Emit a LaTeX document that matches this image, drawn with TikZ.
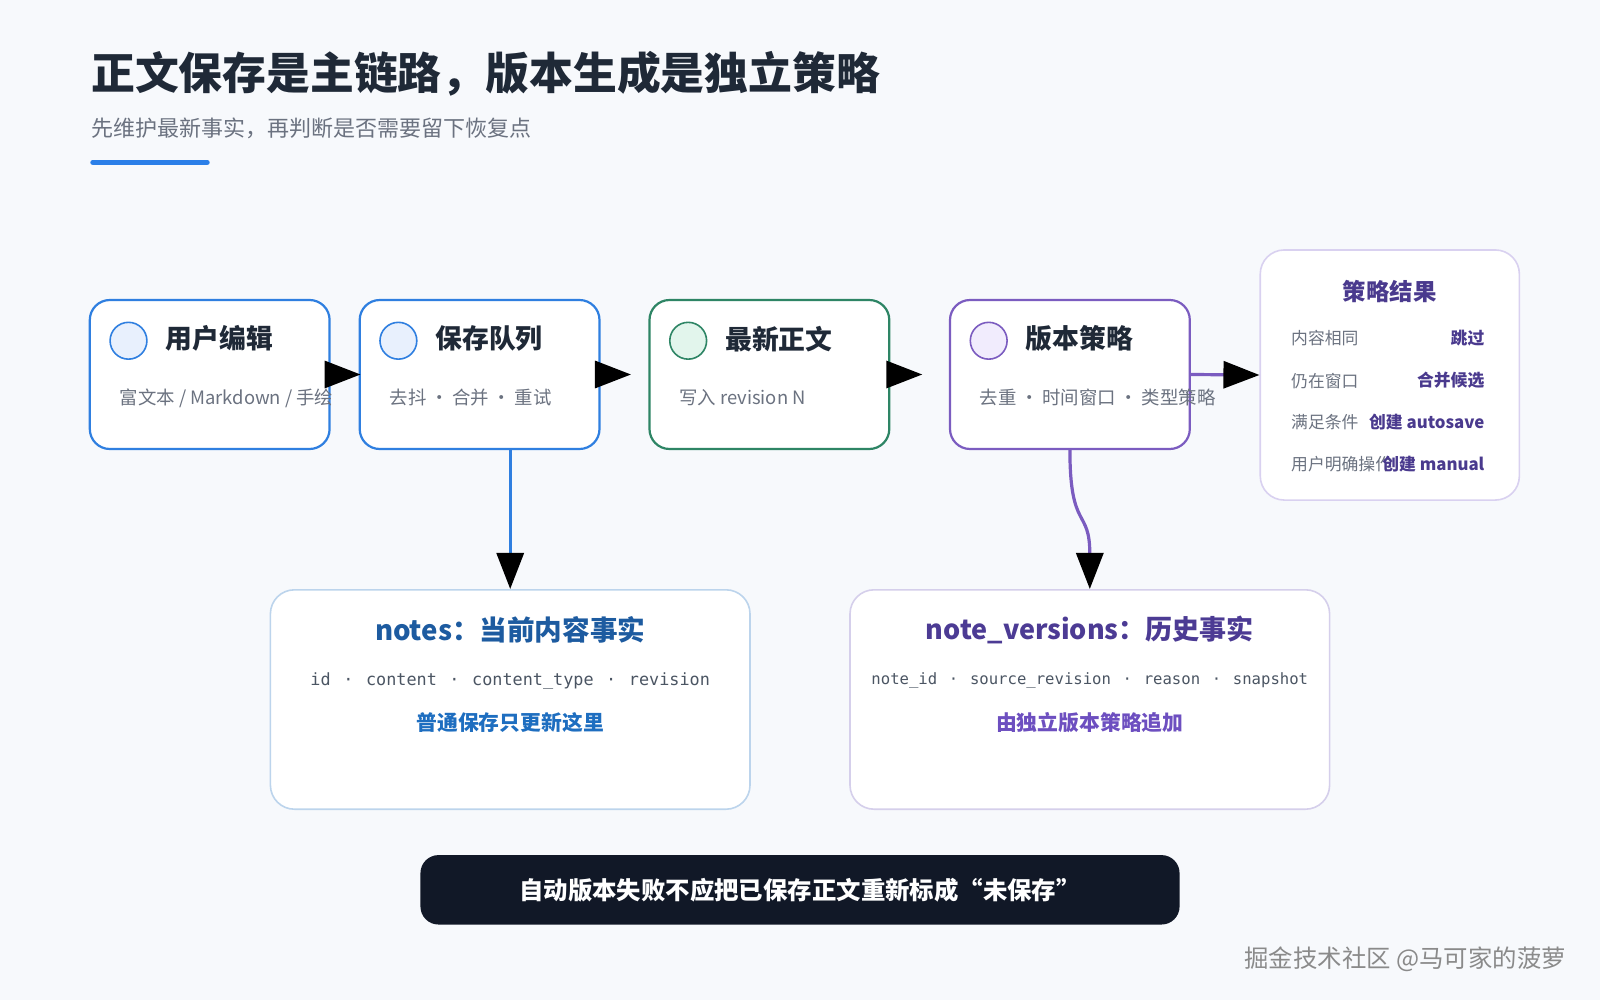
\documentclass[tikz,border=0pt]{standalone}
\usepackage{fontspec}
\setmainfont{Noto Sans CJK SC}
\newfontfamily\monof{DejaVu Sans Mono}
\usetikzlibrary{arrows.meta,calc}
\definecolor{bg}{HTML}{F7F9FC}
\definecolor{ink}{HTML}{1F2937}
\definecolor{subc}{HTML}{6B7280}
\definecolor{monoc}{HTML}{4B5563}
\definecolor{accent}{HTML}{2B7FE8}
\definecolor{blueB}{HTML}{2F7FE0}
\definecolor{blueL}{HTML}{E8F0FD}
\definecolor{greenB}{HTML}{2E8565}
\definecolor{greenL}{HTML}{E2F5EC}
\definecolor{purpB}{HTML}{7B5CC0}
\definecolor{purpL}{HTML}{F1ECFD}
\definecolor{notesB}{HTML}{BCD4EC}
\definecolor{notesT}{HTML}{1D5BA0}
\definecolor{notesS}{HTML}{1E6EC0}
\definecolor{verB}{HTML}{D5CFEB}
\definecolor{verT}{HTML}{4C3B94}
\definecolor{verS}{HTML}{6D4FC0}
\definecolor{stratB}{HTML}{D9D1F0}
\definecolor{stratT}{HTML}{4A3A8E}
\definecolor{darkbar}{HTML}{111827}
\definecolor{wm}{HTML}{8A8A8A}
\newcommand\myfs[1]{\fontsize{#1}{#1}\selectfont}
\newcommand\csep{\hspace{0.2em}·\hspace{0.2em}}
\newcommand\dsep{\hspace{0.75em}·\hspace{0.75em}}
\tikzset{
  x=0.51pt, y=-0.51pt,
  stagebox/.style={draw, line width=1.1pt, rounded corners=10pt, fill=white,
    minimum width=119.85pt, minimum height=74.46pt, inner sep=0pt},
  dotnode/.style={circle, line width=0.8pt, minimum size=18.4pt, inner sep=0pt},
  stitle/.style={anchor=west, inner sep=0pt, text=ink, font=\myfs{13.4}\bfseries},
  ssub/.style={anchor=west, inner sep=0pt, text=subc, font=\myfs{9.2}},
  arr/.style={line width=1.6pt, -{Triangle[length=18pt,width=13.5pt,color=black]}},
  factbox/.style={draw, line width=0.8pt, rounded corners=12pt, fill=white,
    minimum width=239.7pt, minimum height=109.65pt, inner sep=0pt},
  rowlab/.style={anchor=west, inner sep=0pt, text=subc, font=\myfs{8.4}},
  rowval/.style={anchor=east, inner sep=0pt, text=stratT, font=\myfs{8.4}\bfseries},
}
\begin{document}
\begin{tikzpicture}
\useasboundingbox (0,0) rectangle (1568,980);
\fill[bg] (0,0) rectangle (1568,980);

% header
\node[anchor=west, inner sep=0pt, text=ink, font=\myfs{21.9}\bfseries] (title) at (89,72) {正文保存是主链路，版本生成是独立策略};
\node[anchor=west, inner sep=0pt, text=subc, font=\myfs{11.0}] (subtitle) at (89,126) {先维护最新事实，再判断是否需要留下恢复点};
\coordinate (barL) at (91,159);
\coordinate (barR) at (203,159);
\draw[accent, line width=2.6pt, line cap=round] (barL) -- (barR);

% stage boxes
\node[stagebox, draw=blueB] (b1) at (205.5,367) {};
\node[stagebox, draw=blueB] (b2) at (470,367) {};
\node[stagebox, draw=greenB] (b3) at (754,367) {};
\node[stagebox, draw=purpB] (b4) at (1048.5,367) {};

\node[dotnode, draw=blueB, fill=blueL] (c1) at ($(b1.north west)+(39,41)$) {};
\node[dotnode, draw=blueB, fill=blueL] (c2) at ($(b2.north west)+(39,41)$) {};
\node[dotnode, draw=greenB, fill=greenL] (c3) at ($(b3.north west)+(39,41)$) {};
\node[dotnode, draw=purpB, fill=purpL] (c4) at ($(b4.north west)+(39,41)$) {};

\node[stitle] (t1) at ($(b1.north west)+(75,39)$) {用户编辑};
\node[stitle] (t2) at ($(b2.north west)+(75,39)$) {保存队列};
\node[stitle] (t3) at ($(b3.north west)+(75,39)$) {最新正文};
\node[stitle] (t4) at ($(b4.north west)+(75,39)$) {版本策略};

\node[ssub] (s1) at ($(b1.north west)+(30,97)$) {富文本 / Markdown / 手绘};
\node[ssub] (s2) at ($(b2.north west)+(30,97)$) {去抖\csep 合并\csep 重试};
\node[ssub] (s3) at ($(b3.north west)+(30,97)$) {写入 revision N};
\node[ssub] (s4) at ($(b4.north west)+(30,97)$) {去重\csep 时间窗口\csep 类型策略};

% strategy result box
\node[draw=stratB, line width=0.8pt, rounded corners=12pt, fill=white,
  minimum width=129.5pt, minimum height=125pt, inner sep=0pt] (b5) at (1362,367.5) {};
\node[inner sep=0pt, text=stratT, font=\myfs{11.7}\bfseries] (st) at (1362,286) {策略结果};
\node[rowlab] (l1) at (1265,331) {内容相同};
\node[rowlab] (l2) at (1265,373) {仍在窗口};
\node[rowlab] (l3) at (1265,414) {满足条件};
\node[rowlab] (l4) at (1265,455) {用户明确操作};
\node[rowval] (v1) at (1455,331) {跳过};
\node[rowval] (v2) at (1455,373) {合并候选};
\node[rowval] (v3) at (1455,414) {创建 autosave};
\node[rowval] (v4) at (1455,455) {创建 manual};

% fact boxes
\node[factbox, draw=notesB] (notes) at (500,685.5) {};
\node[inner sep=0pt, text=notesT, font=\myfs{13.8}\bfseries] (nt) at (500,617) {notes：当前内容事实};
\node[inner sep=0pt, text=monoc, font=\monof\myfs{8.4}] (nm) at (500,667) {id\dsep content\dsep content\_type\dsep revision};
\node[inner sep=0pt, text=notesS, font=\myfs{10.4}\bfseries] (ns) at (500,708) {普通保存只更新这里};

\node[factbox, draw=verB] (ver) at (1068,685.5) {};
\node[inner sep=0pt, text=verT, font=\myfs{13.5}\bfseries] (vt) at (1068,617) {note\_versions：历史事实};
\node[inner sep=0pt, text=monoc, font=\monof\myfs{7.8}] (vm) at (1068,667) {note\_id\dsep source\_revision\dsep reason\dsep snapshot};
\node[inner sep=0pt, text=verS, font=\myfs{10.4}\bfseries] (vs) at (1068,708) {由独立版本策略追加};

% connectors
\draw[arr, blueB, shorten >=-1pt] (b1.east) -- (b2.west);
\draw[arr, blueB, shorten >=8.7pt] (b2.east) -- (b3.west);
\draw[arr, greenB, shorten >=13.3pt] (b3.east) -- (b4.west);
\draw[arr, purpB] (b4.east) -- (b5.west);
\draw[arr, blueB] (b2.south -| notes.north) -- (notes.north);
\draw[arr, purpB] (b4.south) .. controls +(0,80) and +(0,-80) .. (ver.north);

% bottom note
\node[fill=darkbar, rounded corners=9pt, minimum width=379.4pt, minimum height=34.7pt,
  inner sep=0pt, text=white, font=\myfs{12.2}\bfseries] (note) at (784,872) {自动版本失败不应把已保存正文重新标成“未保存”};

% watermark
\node[inner sep=0pt, text=wm, font=\myfs{12.2}] (wmark) at (1377,940) {掘金技术社区 @马可家的菠萝};
\end{tikzpicture}
\end{document}
